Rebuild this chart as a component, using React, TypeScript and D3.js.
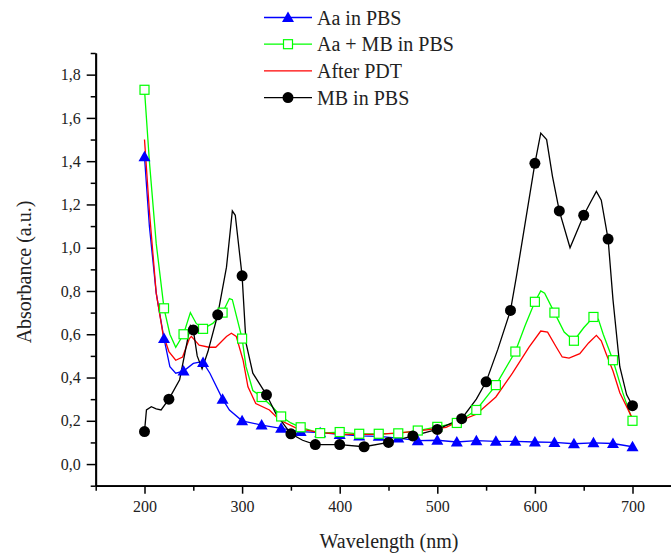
import { useEffect, useRef } from 'react';
import * as d3 from 'd3';

type Pt = [number, number];

// wavelength (nm), absorbance (a.u.)
const aaInPbs: Pt[] = [
  [200, 1.42], [205, 1.1], [212, 0.79], [220, 0.58], [226, 0.45], [232, 0.42], [240, 0.43],
  [250, 0.465], [255, 0.47], [260, 0.47], [267, 0.42], [280, 0.3], [287, 0.25], [300, 0.2],
  [320, 0.18], [340, 0.165], [360, 0.15], [380, 0.145], [400, 0.137], [420, 0.13], [440, 0.128],
  [460, 0.12], [480, 0.108], [500, 0.11], [520, 0.102], [540, 0.108], [560, 0.105], [580, 0.105],
  [600, 0.102], [620, 0.1], [640, 0.094], [660, 0.098], [680, 0.095], [700, 0.08],
];

const aaMbInPbs: Pt[] = [
  [200, 1.73], [205, 1.4], [212, 1.02], [220, 0.72], [226, 0.6], [232, 0.54], [240, 0.6],
  [247, 0.7], [253, 0.65], [260, 0.625], [270, 0.65], [280, 0.7], [287, 0.765], [290, 0.76],
  [295, 0.67], [300, 0.58], [304, 0.45], [311, 0.34], [320, 0.31], [331, 0.265], [340, 0.22],
  [350, 0.19], [360, 0.17], [380, 0.143], [400, 0.148], [420, 0.14], [440, 0.14], [460, 0.142],
  [480, 0.155], [500, 0.172], [520, 0.19], [540, 0.25], [560, 0.365], [580, 0.52], [590, 0.64],
  [600, 0.75], [606, 0.8], [610, 0.79], [620, 0.7], [630, 0.61], [640, 0.57], [650, 0.63],
  [660, 0.68], [665, 0.67], [670, 0.6], [680, 0.48], [690, 0.33], [700, 0.2],
];

const afterPdt: Pt[] = [
  [200, 1.5], [205, 1.17], [212, 0.79], [219, 0.6], [225, 0.52], [232, 0.48], [239, 0.495],
  [246, 0.58], [248, 0.59], [256, 0.55], [266, 0.54], [273, 0.54], [284, 0.59], [289, 0.605],
  [294, 0.59], [301, 0.48], [306, 0.357], [314, 0.28], [328, 0.25], [338, 0.205], [356, 0.165],
  [380, 0.145], [407, 0.137], [440, 0.137], [475, 0.15], [509, 0.17], [523, 0.2], [540, 0.23],
  [560, 0.31], [577, 0.42], [594, 0.54], [606, 0.615], [613, 0.61], [622, 0.54], [628, 0.495],
  [635, 0.49], [646, 0.51], [655, 0.56], [663, 0.595], [668, 0.57], [673, 0.51], [680, 0.43],
  [687, 0.33], [700, 0.21],
];

const mbInPbs: Pt[] = [
  [200, 0.15], [202, 0.25], [207, 0.265], [212, 0.255], [217, 0.25], [225, 0.3], [236, 0.39],
  [243, 0.55], [247, 0.64], [250, 0.62], [254, 0.5], [259, 0.44], [265, 0.52], [275, 0.69],
  [284, 0.91], [290, 1.17], [293, 1.15], [300, 0.87], [304, 0.56], [311, 0.42], [325, 0.32],
  [335, 0.23], [350, 0.14], [362, 0.11], [375, 0.09], [400, 0.09], [425, 0.08], [450, 0.1],
  [475, 0.13], [500, 0.16], [525, 0.21], [540, 0.3], [550, 0.38], [562, 0.53], [575, 0.71],
  [581, 0.865], [587, 1.03], [600, 1.39], [606, 1.53], [612, 1.5], [618, 1.33], [625, 1.17],
  [636, 1.0], [650, 1.15], [657, 1.21], [663, 1.26], [668, 1.22], [675, 1.04], [680, 0.76],
  [687, 0.45], [694, 0.32], [700, 0.27],
];

const seriesNames = ['Aa in PBS', 'Aa + MB in PBS', 'After PDT', 'MB in PBS'];
const seriesColors = ['#0000ff', '#00ff00', '#ff0000', '#000000'];
const markerSteps = [20, 20, 0, 25];

const xMajor = [200, 300, 400, 500, 600, 700];
const xMinor = [150, 250, 350, 450, 550, 650];
const yMajor = [0, 0.2, 0.4, 0.6, 0.8, 1.0, 1.2, 1.4, 1.6, 1.8];
const yMinor = [-0.1, 0.1, 0.3, 0.5, 0.7, 0.9, 1.1, 1.3, 1.5, 1.7, 1.9];

const W = 671;
const H = 553;

function drawMarker(g: any, kind: string, cx: number, cy: number, color: string) {
  if (kind === 'tri') {
    g.append('path')
      .attr('d', `M${cx},${cy - 6}L${cx + 6},${cy + 4.5}L${cx - 6},${cy + 4.5}Z`)
      .attr('fill', color);
  } else if (kind === 'sq') {
    g.append('rect')
      .attr('x', cx - 4.5).attr('y', cy - 4.5).attr('width', 9).attr('height', 9)
      .attr('fill', 'white').attr('stroke', color).attr('stroke-width', 1.2);
  } else if (kind === 'circ') {
    g.append('circle').attr('cx', cx).attr('cy', cy).attr('r', 5.5).attr('fill', color);
  }
}

export default function App() {
  const ref = useRef<SVGSVGElement>(null);

  useEffect(() => {
    const svg = d3.select(ref.current);
    svg.selectAll('*').remove();

    const x = d3.scaleLinear().domain([150, 750]).range([95.7, 681.3]);
    const y = d3.scaleLinear().domain([-0.1, 1.9]).range([485.7, 53]);
    const comma = (v: any) => d3.format('.1f')(v).replace('.', ',').replace('−', '-');

    // axes
    svg.append('g').attr('transform', `translate(${x(150)},0)`)
      .call(d3.axisLeft(y).tickValues(yMajor).tickSize(9).tickPadding(6).tickSizeOuter(0).tickFormat(comma as any));
    svg.append('g').attr('transform', `translate(${x(150)},0)`)
      .call(d3.axisLeft(y).tickValues(yMinor).tickSize(5).tickSizeOuter(0).tickFormat(() => ''));

    svg.append('g').attr('transform', `translate(0,${y(-0.1)})`)
      .call(d3.axisBottom(x).tickValues(xMajor).tickSize(8).tickPadding(7).tickSizeOuter(0));
    svg.append('g').attr('transform', `translate(0,${y(-0.1)})`)
      .call(d3.axisBottom(x).tickValues(xMinor).tickSize(5).tickSizeOuter(0).tickFormat(() => ''));

    svg.selectAll('g').attr('font-family', null).attr('font-size', null);
    svg.selectAll('.domain').attr('stroke', '#000').attr('stroke-width', 1.8);
    svg.selectAll('.tick line').attr('stroke', '#000').attr('stroke-width', 1.5);
    svg.selectAll('.tick text').attr('font-size', 16).attr('fill', '#222');

    // axis titles
    svg.append('text')
      .attr('x', 389).attr('y', 548)
      .attr('text-anchor', 'middle')
      .attr('font-size', 20).attr('fill', '#222')
      .text('Wavelength (nm)');
    svg.append('text')
      .attr('transform', `translate(31,272) rotate(-90)`)
      .attr('text-anchor', 'middle')
      .attr('font-size', 20).attr('fill', '#222')
      .text('Absorbance (a.u.)');

    // curves
    const allData = [aaInPbs, aaMbInPbs, afterPdt, mbInPbs];
    const kinds = ['tri', 'sq', '', 'circ'];
    const line = d3.line<Pt>().x((d) => x(d[0])).y((d) => y(d[1]));
    const plot = svg.append('g');

    allData.forEach((data, i) => {
      plot.append('path')
        .datum(data)
        .attr('d', line)
        .attr('fill', 'none')
        .attr('stroke', seriesColors[i])
        .attr('stroke-width', 1.3);
    });
    allData.forEach((data, i) => {
      const step = markerSteps[i];
      if (!step) return;
      data.filter((d) => (d[0] - 200) % step === 0).forEach((d) => {
        drawMarker(plot, kinds[i], x(d[0]), y(d[1]), seriesColors[i]);
      });
    });

    // legend
    const legend = svg.append('g');
    seriesNames.forEach((name, i) => {
      const ly = 17.5 + i * 26.7;
      legend.append('line')
        .attr('x1', 264).attr('x2', 312).attr('y1', ly).attr('y2', ly)
        .attr('stroke', seriesColors[i]).attr('stroke-width', 1.3);
      drawMarker(legend, kinds[i], 288, ly, seriesColors[i]);
      legend.append('text')
        .attr('x', 317).attr('y', ly + 7)
        .attr('font-size', 20).attr('fill', '#222')
        .text(name);
    });
  }, []);

  return (
    <svg
      ref={ref}
      width={W}
      height={H}
      style={{
        position: 'absolute',
        left: 0,
        top: 0,
        background: '#fff',
        overflow: 'hidden',
        fontFamily: 'Liberation Serif',
      }}
    />
  );
}
